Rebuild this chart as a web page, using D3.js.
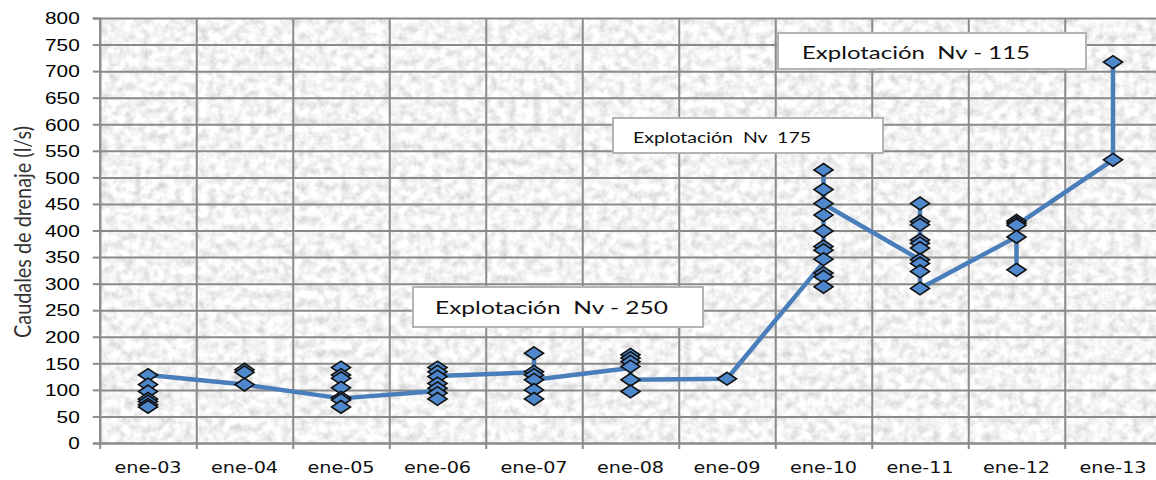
<!DOCTYPE html>
<html>
<head>
<meta charset="utf-8">
<script src="https://cdn.jsdelivr.net/npm/d3@7"></script>
<style>
  body { margin: 0; background: #fff; }
  svg { display: block; }
</style>
</head>
<body>
<svg id="chart" width="1156" height="480"></svg>
<script>
// Monthly sampling points (January of each year)
const months = ["ene-03", "ene-04", "ene-05", "ene-06", "ene-07", "ene-08",
                "ene-09", "ene-10", "ene-11", "ene-12", "ene-13"];

// Measured drainage flows (l/s) for each month
const flowSamples = [
  [128, 110, 97, 83, 78, 72, 68],
  [138, 133, 110],
  [142, 128, 122, 104, 85, 81, 68],
  [142, 134, 125, 112, 103, 94, 83],
  [169, 134, 128, 119, 100, 83],
  [166, 160, 153, 144, 119, 97],
  [121],
  [514, 477, 451, 429, 399, 370, 363, 346, 320, 313, 294],
  [451, 417, 411, 382, 376, 367, 345, 338, 323, 291],
  [418, 414, 410, 388, 326],
  [717, 533]
];

// Trend line vertices, in drawing order
const lineMonths = ["ene-03", "ene-04", "ene-05", "ene-06", "ene-06",
                    "ene-07", "ene-07", "ene-07", "ene-08", "ene-08",
                    "ene-09", "ene-10", "ene-10", "ene-10",
                    "ene-11", "ene-11", "ene-11",
                    "ene-12", "ene-12", "ene-12", "ene-13", "ene-13"];
const lineValues = [128, 110, 84, 98, 126,
                    133, 169, 119, 141, 119,
                    121, 340, 514, 450,
                    345, 451, 291,
                    388, 326, 410, 533, 717];

const yTicks = [0, 50, 100, 150, 200, 250, 300, 350, 400,
                450, 500, 550, 600, 650, 700, 750, 800];

const yTitle = "Caudales de drenaje (l/s)";
const notes = ["Explotación  Nv - 250", "Explotación  Nv  175", "Explotación  Nv - 115"];

// ---- layout ----
const W = 1156, H = 480;
const x0 = 99.75, x1 = 1161.25, yTop = 18, yBot = 443;
const gridColor = "#8a8a8a";

const svg = d3.select("#chart");

const x = d3.scaleBand().domain(months).range([x0, x1]).padding(0);
const y = d3.scaleLinear().domain([0, 800]).range([yBot, yTop]);
const cx = m => x(m) + x.bandwidth() / 2;
// category boundaries
const xb = d3.scaleLinear().domain([0, months.length]).range([x0, x1]);

// granite-like plot-area fill
const defs = svg.append("defs");
const f = defs.append("filter").attr("id", "grain")
  .attr("x", 0).attr("y", 0).attr("width", 1).attr("height", 1);
f.append("feTurbulence").attr("type", "fractalNoise")
  .attr("baseFrequency", 0.12).attr("numOctaves", 5).attr("seed", 11).attr("result", "n");
f.append("feColorMatrix").attr("in", "n").attr("type", "matrix")
  .attr("values", "0.62 0 0 0 0.59  0.62 0 0 0 0.59  0.62 0 0 0 0.59  0 0 0 0 1");

svg.append("rect").attr("width", W).attr("height", H).attr("fill", "#fff");
svg.append("rect")
  .attr("x", x0).attr("y", yTop)
  .attr("width", x1 - x0).attr("height", yBot - yTop)
  .attr("fill", "#e4e4e4")
  .attr("filter", "url(#grain)");

// horizontal grid
svg.append("g").attr("class", "hgrid")
  .attr("transform", `translate(${x0},0)`)
  .call(d3.axisLeft(y).tickValues(yTicks).tickSize(-(x1 - x0)).tickFormat(""))
  .call(g => g.select(".domain").remove())
  .call(g => g.selectAll("line").attr("stroke", gridColor).attr("stroke-width", 2));

// vertical grid at category boundaries, with ticks below the axis
svg.append("g").attr("class", "vgrid")
  .attr("transform", `translate(0,${yBot + 6})`)
  .call(d3.axisBottom(xb).tickValues(d3.range(0, months.length + 1))
        .tickSize(-(yBot + 6 - yTop)).tickFormat(""))
  .call(g => g.select(".domain").remove())
  .call(g => g.selectAll("line").attr("stroke", gridColor).attr("stroke-width", 2));

// y axis with labels
svg.append("g").attr("class", "yaxis")
  .attr("transform", `translate(${x0},0)`)
  .call(d3.axisLeft(y).tickValues(yTicks).tickSize(7).tickFormat(d3.format("d")))
  .call(g => g.select(".domain").attr("stroke", gridColor).attr("stroke-width", 2))
  .call(g => g.selectAll(".tick line").attr("stroke", gridColor).attr("stroke-width", 2))
  .call(g => g.selectAll(".tick text")
    .attr("x", 0).attr("dy", "0.36em")
    .attr("transform", "translate(-20,0) scale(1.3,1)")
    .attr("text-anchor", "end")
    .attr("fill", "#000")
    .style("font-family", "'Liberation Sans', Arial, sans-serif")
    .style("font-size", "16px"));

// x axis labels
svg.append("g").attr("class", "xaxis")
  .attr("transform", `translate(0,${yBot})`)
  .call(d3.axisBottom(x).tickSize(0))
  .call(g => g.select(".domain").attr("stroke", gridColor).attr("stroke-width", 2))
  .call(g => g.selectAll(".tick text")
    .attr("y", null).attr("dy", null)
    .attr("transform", "translate(0,30) scale(1.24,1)")
    .attr("text-anchor", "middle")
    .attr("fill", "#111")
    .style("font-family", "'DejaVu Sans', Verdana, sans-serif")
    .style("font-size", "15.5px"));

// y axis title
svg.append("text")
  .attr("transform", "translate(31,232) rotate(-90) scale(1,1.45)")
  .attr("text-anchor", "middle")
  .attr("textLength", 212)
  .attr("lengthAdjust", "spacingAndGlyphs")
  .attr("fill", "#333")
  .style("font-family", "Lato, 'Open Sans', sans-serif")
  .style("font-size", "16px")
  .text(yTitle);

// trend line
const linePts = lineMonths.map((m, i) => ({ m, v: lineValues[i] }));
svg.append("path")
  .datum(linePts)
  .attr("fill", "none")
  .attr("stroke", "#4a7ebb")
  .attr("stroke-width", 4.5)
  .attr("stroke-linejoin", "round")
  .attr("d", d3.line().x(d => cx(d.m)).y(d => y(d.v)));

// diamond markers
const wideDiamond = {
  draw(ctx) {
    ctx.moveTo(0, -6.4); ctx.lineTo(9.5, 0); ctx.lineTo(0, 6.4); ctx.lineTo(-9.5, 0); ctx.closePath();
  }
};
const samples = months.flatMap((m, i) => flowSamples[i].map(v => ({ m, v })));
svg.append("g").selectAll("path")
  .data(samples)
  .join("path")
  .attr("transform", d => `translate(${cx(d.m)},${y(d.v)})`)
  .attr("d", d3.symbol(wideDiamond)())
  .attr("fill", "#4f88cc")
  .attr("stroke", "#111")
  .attr("stroke-width", 1.6);

// level annotations
const noteBoxes = [
  { x: 413, y: 287, w: 290, h: 40, tx: 435, ty: 314, tw: 233, fs: 18 },
  { x: 613, y: 118, w: 270, h: 35, tx: 633, ty: 142.5, tw: 178, fs: 15 },
  { x: 778, y: 33,  w: 308, h: 36, tx: 802, ty: 59,  tw: 228, fs: 17.5 }
];
const ng = svg.append("g").selectAll("g").data(noteBoxes).join("g");
ng.append("rect")
  .attr("x", d => d.x).attr("y", d => d.y)
  .attr("width", d => d.w).attr("height", d => d.h)
  .attr("fill", "#fff").attr("stroke", "#b4b4b4").attr("stroke-width", 2);
ng.append("text")
  .attr("x", d => d.tx).attr("y", d => d.ty)
  .attr("textLength", d => d.tw)
  .attr("lengthAdjust", "spacingAndGlyphs")
  .attr("fill", "#111")
  .style("white-space", "pre")
  .style("font-family", "Lato, 'Open Sans', sans-serif")
  .style("font-size", d => d.fs + "px")
  .text((d, i) => notes[i]);
</script>
</body>
</html>
